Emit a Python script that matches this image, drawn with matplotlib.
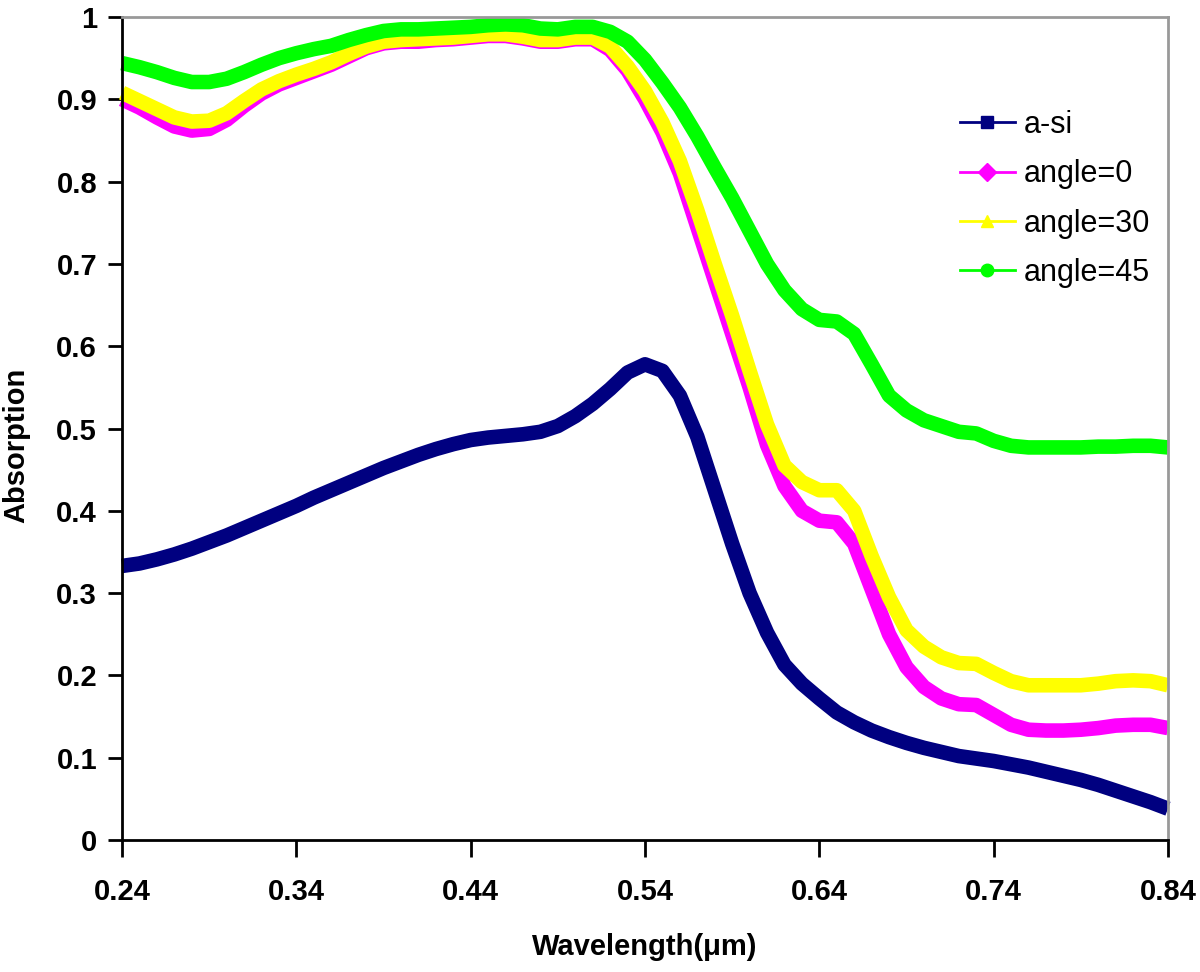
import matplotlib
matplotlib.use("Agg")
import matplotlib.pyplot as plt
from matplotlib.lines import Line2D

plt.rcParams['font.family'] = ['Liberation Sans', 'DejaVu Sans']

wavelength = [0.24, 0.25, 0.26, 0.27, 0.28, 0.29, 0.30, 0.31, 0.32, 0.33,
              0.34, 0.35, 0.36, 0.37, 0.38, 0.39, 0.40, 0.41, 0.42, 0.43,
              0.44, 0.45, 0.46, 0.47, 0.48, 0.49, 0.50, 0.51, 0.52, 0.53,
              0.54, 0.55, 0.56, 0.57, 0.58, 0.59, 0.60, 0.61, 0.62, 0.63,
              0.64, 0.65, 0.66, 0.67, 0.68, 0.69, 0.70, 0.71, 0.72, 0.73,
              0.74, 0.75, 0.76, 0.77, 0.78, 0.79, 0.80, 0.81, 0.82, 0.83,
              0.84]

a_si = [0.333, 0.336, 0.341, 0.347, 0.354, 0.362, 0.370, 0.379, 0.388, 0.397,
        0.406, 0.416, 0.425, 0.434, 0.443, 0.452, 0.460, 0.468, 0.475, 0.481,
        0.486, 0.489, 0.491, 0.493, 0.496, 0.503, 0.515, 0.530, 0.548, 0.568,
        0.578, 0.570, 0.540, 0.490, 0.425, 0.360, 0.300, 0.252, 0.213, 0.190,
        0.172, 0.155, 0.143, 0.133, 0.125, 0.118, 0.112, 0.107, 0.102, 0.099,
        0.096, 0.092, 0.088, 0.083, 0.078, 0.073, 0.067, 0.060, 0.053, 0.046,
        0.038]

angle_0 = [0.900, 0.890, 0.878, 0.867, 0.862, 0.864, 0.875, 0.892, 0.907, 0.918,
           0.926, 0.934, 0.942, 0.952, 0.962, 0.968, 0.970, 0.970, 0.972, 0.973,
           0.975, 0.977, 0.977, 0.974, 0.970, 0.970, 0.973, 0.973, 0.960, 0.935,
           0.900, 0.860, 0.810, 0.745, 0.680, 0.615, 0.550, 0.480, 0.430, 0.400,
           0.388, 0.386, 0.360, 0.305, 0.250, 0.210, 0.186, 0.172, 0.165, 0.164,
           0.152, 0.140, 0.134, 0.133, 0.133, 0.134, 0.136, 0.139, 0.140, 0.140,
           0.136]

angle_30 = [0.908, 0.898, 0.888, 0.878, 0.873, 0.874, 0.883, 0.898, 0.912, 0.922,
            0.930, 0.937, 0.945, 0.955, 0.964, 0.970, 0.972, 0.973, 0.974, 0.975,
            0.977, 0.979, 0.979, 0.976, 0.972, 0.972, 0.975, 0.975, 0.964, 0.940,
            0.910, 0.872, 0.825, 0.765, 0.700, 0.637, 0.570, 0.505, 0.455, 0.435,
            0.425, 0.425, 0.400, 0.345, 0.295, 0.255, 0.235, 0.222, 0.215, 0.214,
            0.203, 0.193, 0.188, 0.188, 0.188, 0.188, 0.190, 0.193, 0.194, 0.193,
            0.188]

angle_45 = [0.944, 0.939, 0.933, 0.926, 0.921, 0.921, 0.925, 0.933, 0.942, 0.950,
            0.956, 0.961, 0.965, 0.972, 0.978, 0.983, 0.985, 0.985, 0.986, 0.987,
            0.988, 0.990, 0.991, 0.990, 0.986, 0.985, 0.988, 0.988, 0.982, 0.970,
            0.948, 0.920, 0.890, 0.855, 0.817, 0.780, 0.740, 0.700, 0.668, 0.645,
            0.632, 0.630, 0.615, 0.578, 0.540, 0.522, 0.510, 0.503, 0.496, 0.494,
            0.485, 0.479, 0.477, 0.477, 0.477, 0.477, 0.478, 0.478, 0.479, 0.479,
            0.477]

series_names = ["a-si", "angle=0", "angle=30", "angle=45"]
series_values = [a_si, angle_0, angle_30, angle_45]
colors = ["#000080", "#ff00ff", "#ffff00", "#00ff00"]
markers = ["s", "D", "^", "o"]

x_ticks = [0.24, 0.34, 0.44, 0.54, 0.64, 0.74, 0.84]
y_ticks = [0, 0.1, 0.2, 0.3, 0.4, 0.5, 0.6, 0.7, 0.8, 0.9, 1.0]
y_tick_labels = ["0", "0.1", "0.2", "0.3", "0.4", "0.5", "0.6", "0.7", "0.8", "0.9", "1"]

fig = plt.figure(figsize=(12, 9.72), dpi=100)
ax = fig.add_axes([0.1017, 0.1358, 0.8716, 0.8467])

for vals, c in zip(series_values, colors):
    ax.plot(wavelength, vals, color=c, lw=10.5, solid_capstyle='butt',
            solid_joinstyle='round', clip_on=False)

ax.set_xlim(0.24, 0.84)
ax.set_ylim(0, 1)
ax.set_xticks(x_ticks)
ax.set_xticklabels([f"{v:.2f}" for v in x_ticks])
ax.set_yticks(y_ticks)
ax.set_yticklabels(y_tick_labels)
ax.tick_params(axis='both', direction='out', width=2, color='black',
               labelsize=21)
ax.tick_params(axis='x', length=12, pad=15)
ax.tick_params(axis='y', length=10, pad=8)
for lab in ax.get_xticklabels() + ax.get_yticklabels():
    lab.set_fontweight('bold')

ax.spines['left'].set_color('black')
ax.spines['bottom'].set_color('black')
ax.spines['left'].set_linewidth(2)
ax.spines['bottom'].set_linewidth(2)
ax.spines['top'].set_color('#999999')
ax.spines['right'].set_color('#999999')
ax.spines['top'].set_linewidth(2)
ax.spines['right'].set_linewidth(2)

ax.set_xlabel("Wavelength(μm)", fontsize=21, fontweight='bold')
ax.xaxis.set_label_coords(0.5, -0.113)
ax.set_ylabel("Absorption", fontsize=21, fontweight='bold')
ax.yaxis.set_label_coords(-0.088, 0.48)

handles = [Line2D([0], [0], color=c, lw=2, marker=m, markersize=9,
                  markerfacecolor=c, markeredgecolor=c)
           for c, m in zip(colors, markers)]
ax.legend(handles, series_names, loc='center left',
          bbox_to_anchor=(0.801, 0.779), frameon=False, fontsize=22,
          handlelength=1.8, handletextpad=0.3, labelspacing=0.63,
          borderpad=0, borderaxespad=0)

fig.savefig("out.png", dpi=100)
